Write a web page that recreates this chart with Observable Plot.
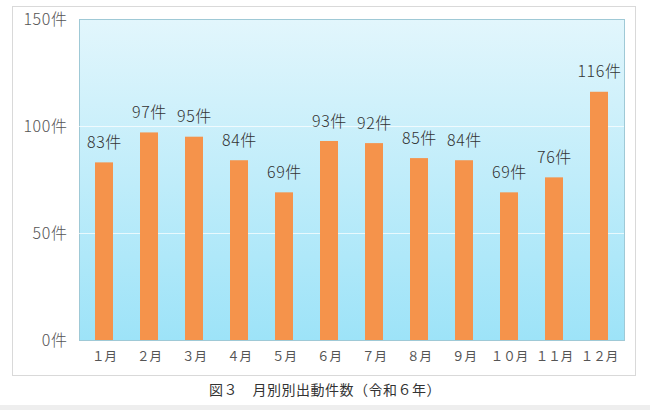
<!DOCTYPE html>
<html>
<head>
<meta charset="utf-8">
<script src="https://cdn.jsdelivr.net/npm/d3@7"></script>
<script src="https://cdn.jsdelivr.net/npm/@observablehq/plot@0.6"></script>
<style>
  html, body { margin: 0; padding: 0; background: #ffffff; width: 650px; height: 410px; overflow: hidden; }
  #wrap { position: relative; width: 650px; height: 410px; font-family: "Noto Sans CJK JP", "Noto Sans", sans-serif; }
  #box { position: absolute; left: 12px; top: 6px; width: 624px; height: 370px; border: 1px solid #d9d9d9; box-sizing: border-box; }
  #chart { position: absolute; left: 0; top: 0; }
  #caption { position: absolute; left: 0; width: 650px; top: 379px; text-align: center; font-size: 14px; color: #333; letter-spacing: 0.5px; }
  #band { position: absolute; left: 0; top: 405px; width: 650px; height: 5px; background: #eeeeee; }
</style>
</head>
<body>
<div id="wrap">
  <div id="box"></div>
  <div id="chart"></div>
  <div id="caption">図３　月別別出動件数（令和６年）</div>
  <div id="band"></div>
</div>
<script>
const months = ["１月","２月","３月","４月","５月","６月","７月","８月","９月","１０月","１１月","１２月"];
const counts = [83, 97, 95, 84, 69, 93, 92, 85, 84, 69, 76, 116];
const yTicks = [0, 50, 100, 150];

const data = months.map((m, i) => ({month: m, count: counts[i]}));

const chart = Plot.plot({
  width: 650,
  height: 380,
  marginLeft: 79,
  marginRight: 26,
  marginTop: 19,
  marginBottom: 40,
  style: {fontFamily: '"Noto Sans CJK JP", "Noto Sans", sans-serif', background: "transparent"},
  x: {domain: months, paddingInner: 0.6, paddingOuter: 0.3, label: null},
  y: {domain: [0, 150], label: null},
  marks: [
    Plot.frame({fill: "url(#bgGrad)", stroke: "#9fc9d6", strokeWidth: 1}),
    Plot.gridY(yTicks.slice(1, 3), {stroke: "#ffffff", strokeOpacity: 0.7, strokeWidth: 1}),
    Plot.barY(data, {x: "month", y: "count", fill: "#f5934b"}),
    Plot.text(data, {x: "month", y: "count", text: d => d.count + "件", dy: -20, fontSize: 16, fill: "#333", fontWeight: 300, style: "letter-spacing:0.6px"}),
    Plot.axisY({ticks: yTicks, tickFormat: d => d + "件", tickSize: 0, tickPadding: 12, fontSize: 16, fill: "#555", fontWeight: 300, label: null}),
    Plot.axisX({tickSize: 0, tickPadding: 12, fontSize: 12.5, fill: "#555", label: null})
  ]
});

const svg = d3.select(chart);
svg.selectAll("text").filter(function() { return /件/.test(this.textContent); }).style("letter-spacing", "0.6px");
const defs = svg.insert("defs", ":first-child");
const grad = defs.append("linearGradient").attr("id", "bgGrad").attr("x1", 0).attr("y1", 0).attr("x2", 0).attr("y2", 1);
grad.append("stop").attr("offset", "0%").attr("stop-color", "#e2f6fc");
grad.append("stop").attr("offset", "100%").attr("stop-color", "#9de3f8");

document.getElementById("chart").appendChild(chart);
</script>
</body>
</html>
